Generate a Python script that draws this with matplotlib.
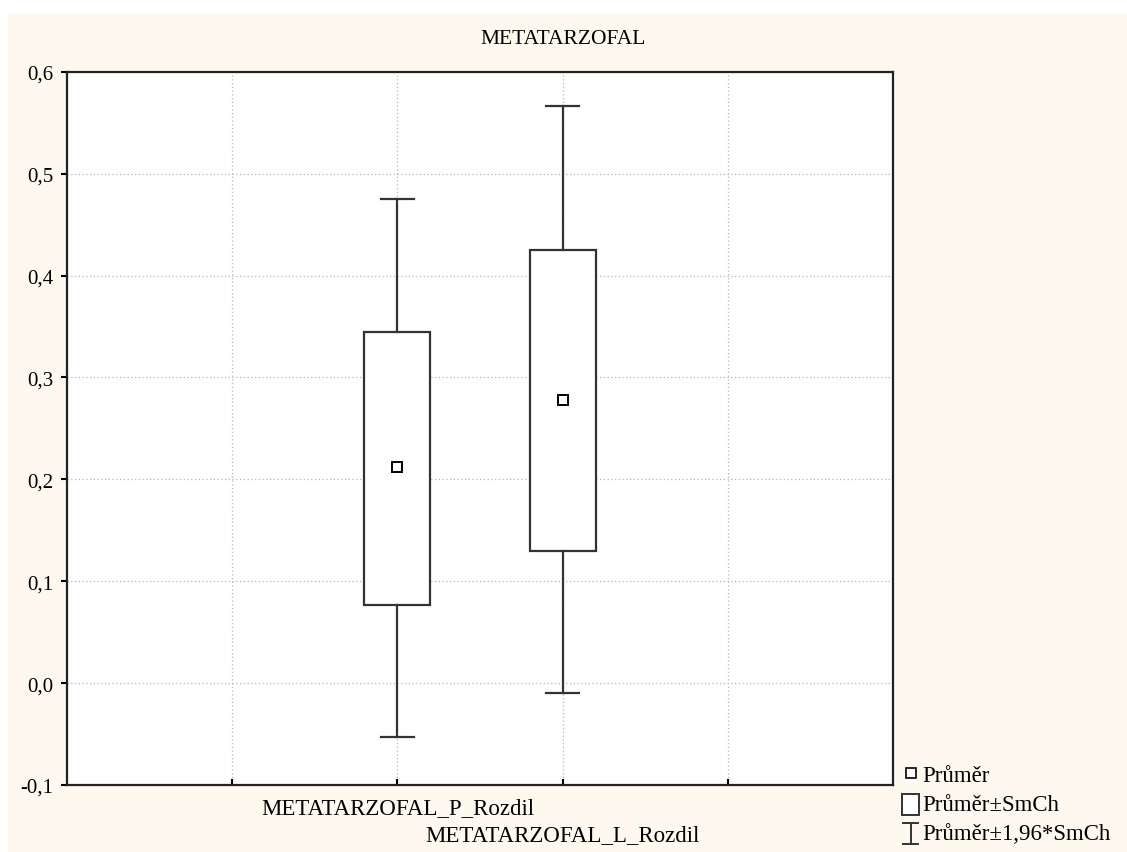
import matplotlib
matplotlib.use("Agg")
import matplotlib.pyplot as plt
from matplotlib.patches import Rectangle
from matplotlib.lines import Line2D
from matplotlib.legend_handler import HandlerBase
from matplotlib.ticker import FuncFormatter

# ---- data ----
categories = ["METATARZOFAL_P_Rozdil", "METATARZOFAL_L_Rozdil"]
means = [0.212, 0.278]
se_low = [0.077, 0.130]      # mean - SE
se_high = [0.345, 0.425]     # mean + SE
ci_low = [-0.053, -0.010]    # mean - 1.96*SE
ci_high = [0.475, 0.566]     # mean + 1.96*SE
positions = [2, 3]
yticks = [-0.1, 0.0, 0.1, 0.2, 0.3, 0.4, 0.5, 0.6]
legend_labels = ["Průměr", "Průměr±SmCh", "Průměr±1,96*SmCh"]
title = "METATARZOFAL"

FONT = ["Liberation Serif", "DejaVu Serif"]
plt.rcParams["font.family"] = FONT
CREAM = "#fef9ef"

fig = plt.figure(figsize=(11.27, 8.53), dpi=100, facecolor="white")
fig.patches.append(Rectangle((8 / 1127, -0.05), 1.1, 1.05 - 15 / 853, transform=fig.transFigure,
                             facecolor=CREAM, edgecolor="none", zorder=-10))

ax = fig.add_axes([67 / 1127, 1 - 786 / 853, 826 / 1127, (786 - 72.7) / 853])
ax.set_facecolor("white")

stats = []
for m, lo, hi, wlo, whi in zip(means, se_low, se_high, ci_low, ci_high):
    stats.append(dict(med=m, mean=m, q1=lo, q3=hi, whislo=wlo, whishi=whi, fliers=[]))

lc = "#333333"
ax.bxp(stats, positions=positions, widths=0.4, capwidths=0.2, showmeans=True,
       showfliers=False, patch_artist=True,
       boxprops=dict(facecolor="white", edgecolor=lc, linewidth=1.6),
       whiskerprops=dict(color=lc, linewidth=1.6),
       capprops=dict(color=lc, linewidth=1.6),
       medianprops=dict(visible=False),
       meanprops=dict(marker="s", markerfacecolor="white", markeredgecolor="black",
                      markersize=7, markeredgewidth=1.4))

ax.set_xlim(0, 5)
ax.set_ylim(-0.1, 0.6)
ax.set_yticks(yticks)
ax.yaxis.set_major_formatter(FuncFormatter(lambda v, p: f"{v:.1f}".replace(".", ",").replace("-0,0", "0,0")))
ax.set_xticks(positions)
ax.set_xticklabels(categories, fontsize=16.5)
ax.set_xticks([1, 4], minor=True)
ax.tick_params(axis="x", which="both", direction="in", length=4, width=1.5, pad=9)
ax.tick_params(axis="y", direction="out", length=4, width=1.5, labelsize=15, pad=6)
# stagger the second category label one line lower
ax.xaxis.get_major_ticks()[1].set_pad(9 + 27 * 72 / 100)
ax.grid(True, which="both", color="#b5b5b5", linestyle=(0, (1, 2)), linewidth=0.9)
ax.set_axisbelow(True)
for s in ax.spines.values():
    s.set_linewidth(1.6)
    s.set_color("#222222")

fig.suptitle(title, fontsize=15.5, x=0.5, y=1 - 30 / 853, va="top")


class HandlerI(HandlerBase):
    def create_artists(self, legend, orig_handle, xdescent, ydescent, width, height, fontsize, trans):
        cx = width / 2 - xdescent
        top = height * 1.0
        bot = -height * 0.3
        hw = width * 0.42
        l1 = Line2D([cx, cx], [bot, top], color=lc, lw=1.4, transform=trans)
        l2 = Line2D([cx - hw, cx + hw], [top, top], color=lc, lw=1.4, transform=trans)
        l3 = Line2D([cx - hw, cx + hw], [bot, bot], color=lc, lw=1.4, transform=trans)
        return [l1, l2, l3]


class HandlerBox(HandlerBase):
    def create_artists(self, legend, orig_handle, xdescent, ydescent, width, height, fontsize, trans):
        r = Rectangle((-xdescent, -height * 0.3), width, height * 1.3, facecolor="white",
                      edgecolor=lc, lw=1.4, transform=trans)
        return [r]


h_mean = Line2D([], [], linestyle="none", marker="s", markerfacecolor="white",
                markeredgecolor="black", markersize=7, markeredgewidth=1.2)
h_box = Rectangle((0, 0), 1, 1)
h_ci = Line2D([], [])
fig.legend([h_mean, h_box, h_ci], legend_labels, loc="upper left",
           bbox_to_anchor=(902 / 1127, 1 - 766 / 853), frameon=False,
           fontsize=16.5, handlelength=0.75, handletextpad=0.12, labelspacing=0.35,
           borderaxespad=0, borderpad=0,
           handler_map={Rectangle: HandlerBox(), h_ci: HandlerI()})

fig.savefig("out.png", dpi=100, facecolor=fig.get_facecolor())
